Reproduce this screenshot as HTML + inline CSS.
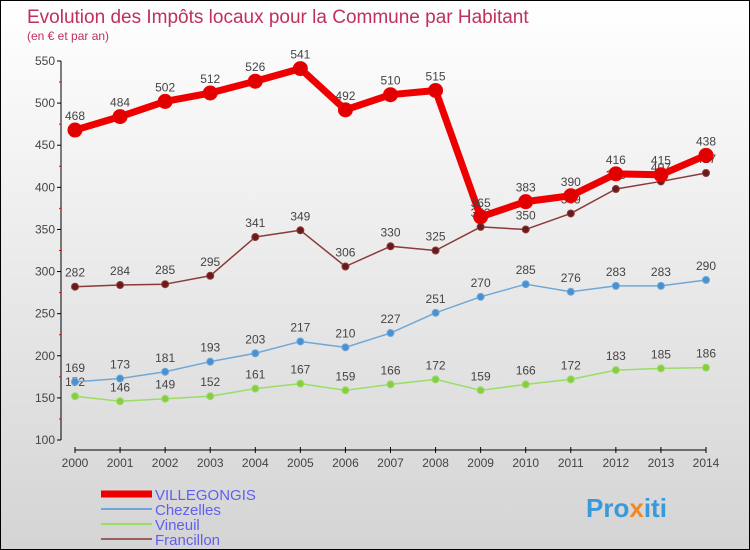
<!DOCTYPE html>
<html><head><meta charset="utf-8"><style>
body{margin:0}
#c{width:748px;height:548px;border:1px solid #000;background:linear-gradient(#ffffff,#d4d4d4);position:relative;font-family:"Liberation Sans",sans-serif;overflow:hidden}
</style></head><body>
<div id="c">
<svg id="s" width="748" height="548" xmlns="http://www.w3.org/2000/svg">
<text x="26" y="22" font-size="19" fill="#c0305a">Evolution des Impôts locaux pour la Commune par Habitant</text>
<text x="26" y="39" font-size="12" fill="#c0305a">(en € et par an)</text>
<g id="axes"></g><g id="series"></g><g id="legend"></g>
<text x="585" y="516" font-size="26" font-weight="bold" fill="#3a9ad9">Pro<tspan fill="#f08a20">x</tspan>iti</text>
</svg></div>
<script>
const years=[2000,2001,2002,2003,2004,2005,2006,2007,2008,2009,2010,2011,2012,2013,2014];
const villegongis=[468,484,502,512,526,541,492,510,515,365,383,390,416,415,438];
const chezelles=[169,173,181,193,203,217,210,227,251,270,285,276,283,283,290];
const vineuil=[152,146,149,152,161,167,159,166,172,159,166,172,183,185,186];
const francillon=[282,284,285,295,341,349,306,330,325,353,350,369,398,407,417];
const yTicks=[100,150,200,250,300,350,400,450,500,550];
const NS="http://www.w3.org/2000/svg";
const xs=i=>74+i*(705-74)/14;
const ys=v=>439-(v-100)*(439-60)/450;
function mk(t,a,p){const e=document.createElementNS(NS,t);for(const k in a)e.setAttribute(k,a[k]);p.appendChild(e);return e;}
const ax=document.getElementById('axes');
const yl=mk('line',{x1:60,y1:60,x2:60,y2:439,stroke:'#000'},ax);


yTicks.forEach(v=>{mk('line',{x1:56,x2:60,y1:ys(v),y2:ys(v),stroke:'#000'},ax);
const t=mk('text',{x:54,y:ys(v)+4,'font-size':12,'text-anchor':'end',fill:'#444'},ax);t.textContent=v;


if(v<550)mk('line',{x1:58,x2:60,y1:ys(v+25),y2:ys(v+25),stroke:'#e00'},ax);});
const xl=mk('line',{x1:74,y1:449,x2:705,y2:449,stroke:'#000'},ax);


years.forEach((y,i)=>{mk('line',{x1:xs(i),x2:xs(i),y1:446,y2:452,stroke:'#000'},ax);
const t=mk('text',{x:xs(i),y:466,'font-size':12,'text-anchor':'middle',fill:'#444'},ax);t.textContent=y;

});
const sg=document.getElementById('series');
function draw(data,color,lw,r,name,dot){
const g=mk('g',{},sg);


mk('polyline',{points:data.map((v,i)=>xs(i)+','+ys(v)).join(' '),fill:'none',stroke:color,'stroke-width':lw,'stroke-linejoin':'round'},g);
data.forEach((v,i)=>{const c=mk('circle',{cx:xs(i),cy:ys(v),r:r,fill:dot,stroke:color,'stroke-width':1},g);


const t=mk('text',{x:xs(i),y:ys(v)-10,'font-size':12,'text-anchor':'middle',fill:'#444'},g);t.textContent=v;

});}
draw(vineuil,'#99dd66',1.5,3.5,'vineuil','#88cc44');
draw(chezelles,'#6fa8d8',1.5,3.5,'chezelles','#4a90d0');
draw(francillon,'#8b3a3a',1.5,3.5,'francillon','#6a1a1a');
draw(villegongis,'#ee0000',7,7,'villegongis','#e00000');
const lg=document.getElementById('legend');
[['VILLEGONGIS','#ee0000',7],['Chezelles','#6fa8d8',2],['Vineuil','#99dd66',2],['Francillon','#9a6060',2]].forEach((d,i)=>{
const y=493+i*15;
const g=mk('g',{},lg);


mk('line',{x1:100,x2:151,y1:y,y2:y,stroke:d[1],'stroke-width':d[2]},g);
const t=mk('text',{x:154,y:y+6,'font-size':15,fill:'#6060ee'},g);t.textContent=d[0];});
</script></body></html>
